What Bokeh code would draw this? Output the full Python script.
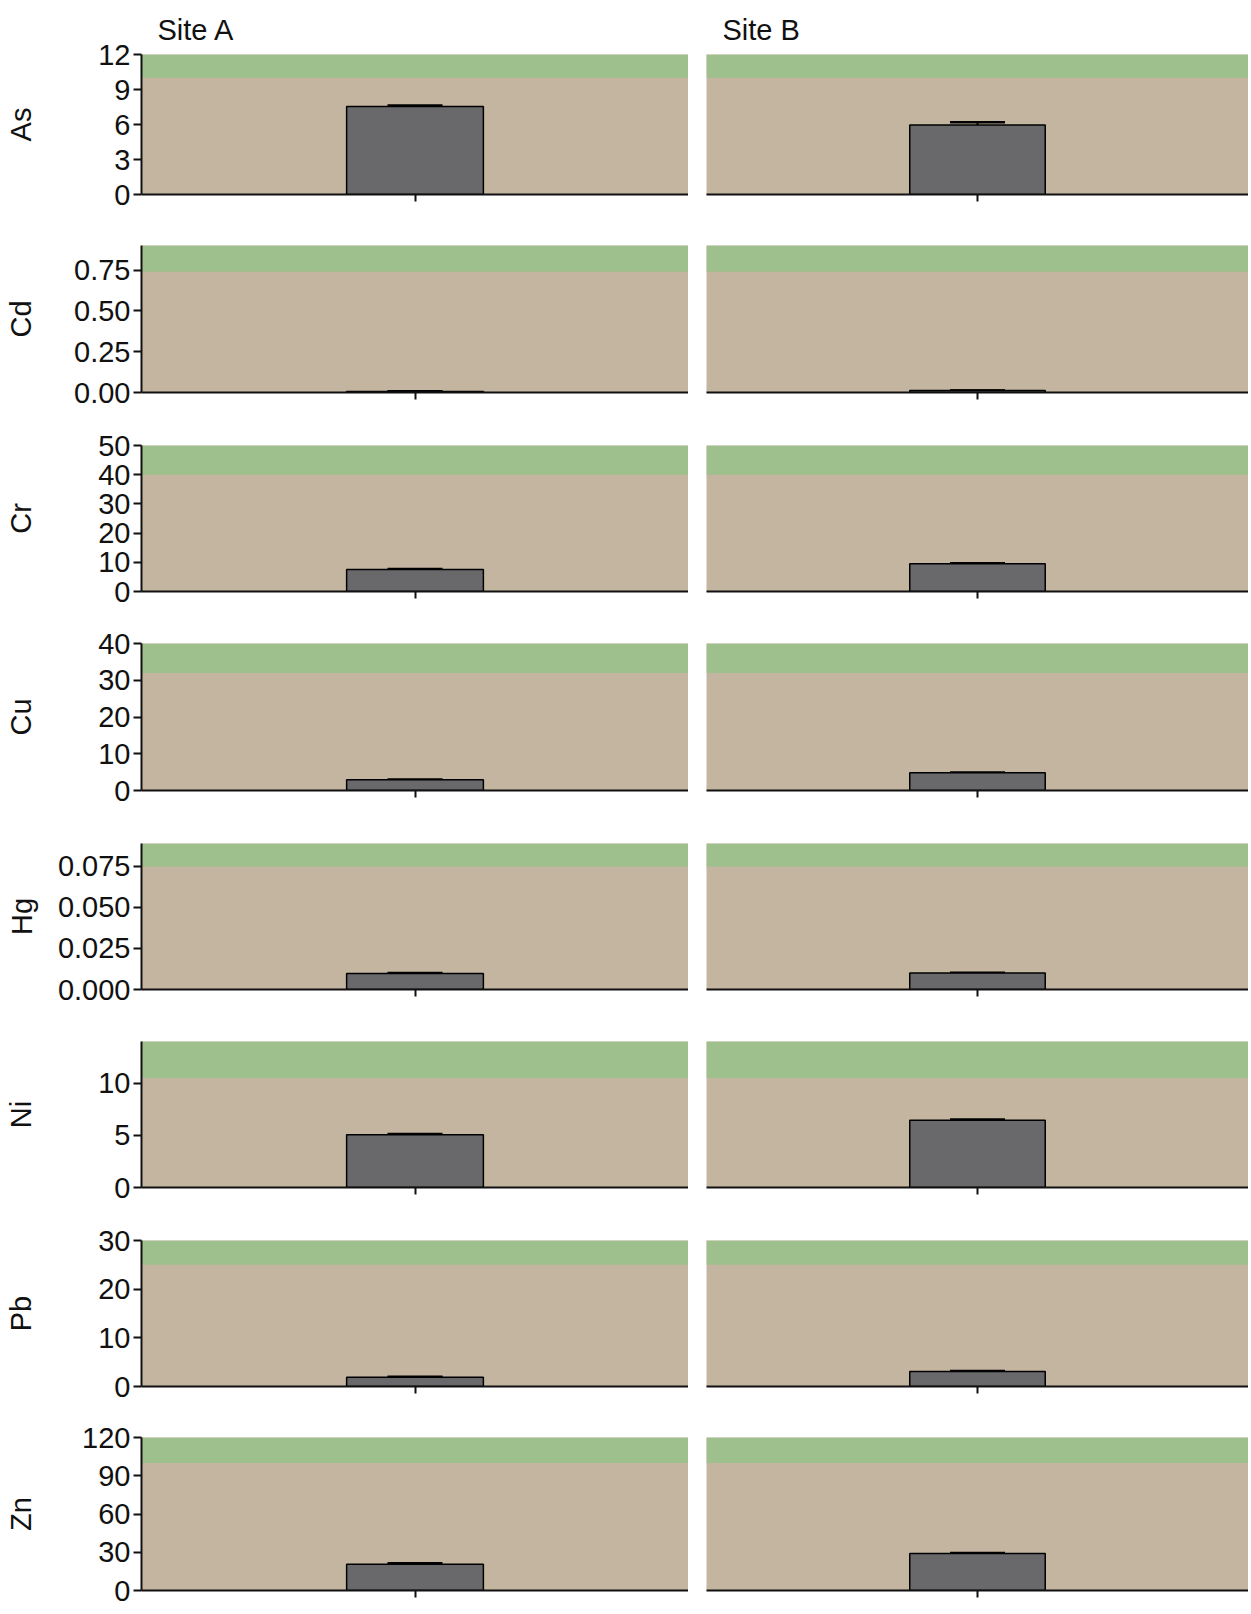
from bokeh.plotting import figure
from bokeh.models import (Range1d, FactorRange, FixedTicker, BoxAnnotation,
                          Whisker, TeeHead, ColumnDataSource)
from bokeh.layouts import column, row
from bokeh.embed import file_html
from bokeh.resources import INLINE

# ---------------- data ----------------
sites = ["Site A", "Site B"]
elements = ["As", "Cd", "Cr", "Cu", "Hg", "Ni", "Pb", "Zn"]
mean_site_a = [7.55, 0.006, 7.5, 2.9, 0.0098, 5.05, 1.9, 20.5]
mean_site_b = [5.95, 0.012, 9.5, 4.8, 0.0100, 6.45, 3.1, 29.0]
se_site_a = [0.08, 0.001, 0.2, 0.1, 0.0002, 0.08, 0.1, 0.8]
se_site_b = [0.25, 0.001, 0.15, 0.1, 0.0002, 0.08, 0.1, 0.4]
y_max = [12, 0.9, 50, 40, 0.089, 14, 30, 120]
threshold = [10, 0.74, 40, 32, 0.075, 10.5, 25, 100]
tick_values = [
    [0, 3, 6, 9, 12],
    [0, 0.25, 0.5, 0.75],
    [0, 10, 20, 30, 40, 50],
    [0, 10, 20, 30, 40],
    [0, 0.025, 0.05, 0.075],
    [0, 5, 10],
    [0, 10, 20, 30],
    [0, 30, 60, 90, 120],
]
tick_labels = [
    ["0", "3", "6", "9", "12"],
    ["0.00", "0.25", "0.50", "0.75"],
    ["0", "10", "20", "30", "40", "50"],
    ["0", "10", "20", "30", "40"],
    ["0.000", "0.025", "0.050", "0.075"],
    ["0", "5", "10"],
    ["0", "10", "20", "30"],
    ["0", "30", "60", "90", "120"],
]

# ---------------- style / layout ----------------
FONT = "Liberation Sans"
TICK_FS = 29
LABEL_FS = 29
TITLE_FS = 29
TAN = "#c4b5a0"
GREEN = "#9dc08c"
BAR = "#69696b"
INK = "#111111"

frame_tops = [54, 245, 445, 643, 843, 1041, 1240, 1437]
frame_heights = [140, 147, 146, 147, 146, 146, 146, 153]
bottom_border = [20, 20, 20, 20, 20, 20, 20, 16]
LEFT_BORDER = 141
LEFT_FRAME_W = 547
GAP = 18
RIGHT_FRAME_W = 542
LABEL_TARGET = 90
TICK_STANDOFF = 3


def text_width(s, fs):
    return sum(0.278 if c == "." else 0.556 for c in s) * fs


def make_panel(i, site, mean, se, left):
    fh = frame_heights[i]
    prev_end = 0 if i == 0 else frame_tops[i - 1] + frame_heights[i - 1] + bottom_border[i - 1]
    top_border = frame_tops[i] - prev_end
    p = figure(
        x_range=FactorRange(factors=[site]),
        y_range=Range1d(0, y_max[i]),
        frame_width=LEFT_FRAME_W if left else RIGHT_FRAME_W,
        frame_height=fh,
        min_border_left=LEFT_BORDER if left else GAP,
        min_border_right=0,
        min_border_top=top_border,
        min_border_bottom=bottom_border[i],
        output_backend="svg",
        toolbar_location=None,
        y_axis_location="left" if left else None,
        tools="",
    )
    p.background_fill_color = TAN
    p.border_fill_color = "white"
    p.outline_line_color = None
    p.xgrid.grid_line_color = None
    p.ygrid.grid_line_color = None

    p.add_layout(BoxAnnotation(bottom=threshold[i], fill_color=GREEN, fill_alpha=1.0,
                               line_color=None, level="underlay"))

    src = ColumnDataSource(dict(x=[site], top=[mean[i]],
                                upper=[mean[i] + se[i]], lower=[mean[i] - se[i]]))
    p.vbar(x="x", top="top", bottom=0, width=0.25, source=src,
           fill_color=BAR, line_color="black", line_width=1.5)
    p.add_layout(Whisker(source=src, base="x", upper="upper", lower="lower",
                         dimension="height", line_color="black", line_width=2,
                         upper_head=TeeHead(size=55, line_width=2.5, line_color="black"),
                         lower_head=TeeHead(size=55, line_width=2.5, line_color="black")))

    xa = p.xaxis[0]
    xa.axis_line_color = INK
    xa.axis_line_width = 2
    xa.major_tick_line_color = INK
    xa.major_tick_line_width = 2
    xa.major_tick_out = 7
    xa.major_tick_in = 0
    xa.major_label_standoff = 0
    xa.major_label_text_font_size = "0px"
    xa.major_label_text_color = None

    if left:
        ya = p.yaxis[0]
        ya.ticker = FixedTicker(ticks=tick_values[i])
        ya.major_label_overrides = {v: s for v, s in zip(tick_values[i], tick_labels[i])}
        ya.minor_tick_line_color = None
        ya.axis_line_color = INK
        ya.axis_line_width = 2
        ya.major_tick_line_color = INK
        ya.major_tick_line_width = 2
        ya.major_tick_out = 8
        ya.major_tick_in = 0
        ya.major_label_standoff = TICK_STANDOFF
        ya.major_label_text_font = FONT
        ya.major_label_text_font_size = f"{TICK_FS}px"
        ya.major_label_text_color = INK
        ya.axis_label = elements[i]
        ya.axis_label_text_font = FONT
        ya.axis_label_text_font_size = f"{LABEL_FS}px"
        ya.axis_label_text_font_style = "normal"
        ya.axis_label_text_color = INK
        w = max(text_width(s, TICK_FS) for s in tick_labels[i])
        ya.axis_label_standoff = max(2, int(round(LABEL_TARGET - w)))

    if i == 0:
        p.title.text = site
        p.title.align = "left"
        p.title.offset = 16
        p.title.text_font = FONT
        p.title.text_font_size = f"{TITLE_FS}px"
        p.title.text_font_style = "normal"
        p.title.text_color = INK
        p.title.standoff = 18
    return p


rows = []
for i in range(len(elements)):
    pa = make_panel(i, sites[0], mean_site_a, se_site_a, True)
    pb = make_panel(i, sites[1], mean_site_b, se_site_b, False)
    rows.append(row(pa, pb, spacing=0))

layout = column(*rows, spacing=0)

open("out.html", "w").write(file_html(layout, INLINE))
